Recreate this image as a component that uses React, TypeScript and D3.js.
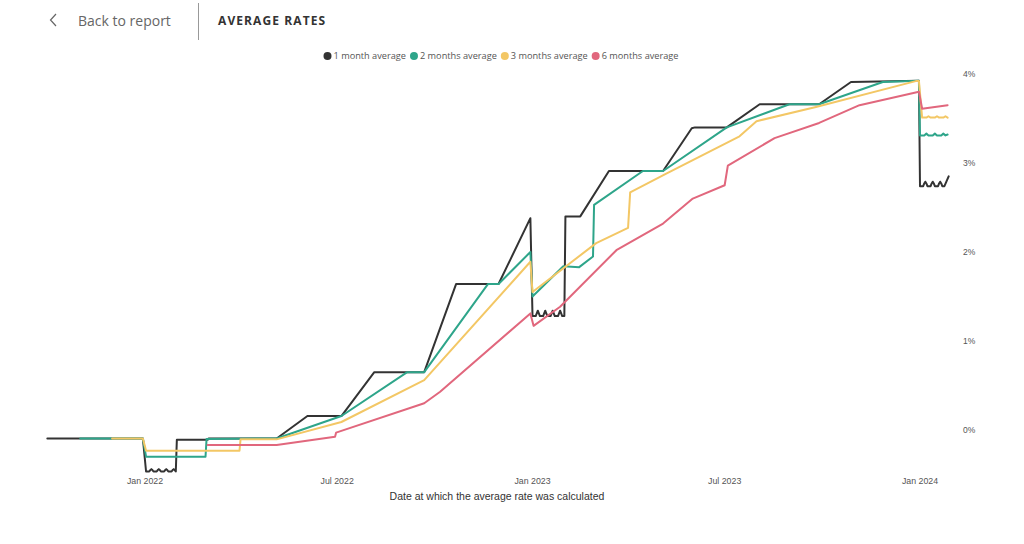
import React, { useEffect, useRef } from 'react';
import * as d3 from 'd3';

type Pt = [string, number];

const seriesNames = ['1 month average', '2 months average', '3 months average', '6 months average'];
const seriesColors = ['#333333', '#2EA58A', '#F3C765', '#E1677D'];
const yTicks = [0, 1, 2, 3, 4];
const xTickDates = ['2022-01-01', '2022-07-01', '2023-01-01', '2023-07-01', '2024-01-01'];
const xDomain = ['2022-01-01', '2024-01-01'];
const yDomain = [0, 4];

const oneMonth: Pt[] = [
  ['2021-10-01', -0.095], ['2021-12-30', -0.095], ['2022-01-02', -0.466],
  ['2022-01-05', -0.466], ['2022-01-06', -0.45], ['2022-01-07', -0.44], ['2022-01-08', -0.45], ['2022-01-09', -0.466],
  ['2022-01-12', -0.466], ['2022-01-13', -0.45], ['2022-01-14', -0.44], ['2022-01-15', -0.45], ['2022-01-16', -0.466],
  ['2022-01-19', -0.466], ['2022-01-20', -0.45], ['2022-01-21', -0.44], ['2022-01-22', -0.45], ['2022-01-23', -0.466],
  ['2022-01-26', -0.466], ['2022-01-27', -0.45], ['2022-01-28', -0.44], ['2022-01-29', -0.45], ['2022-01-30', -0.466],
  ['2022-01-31', -0.11], ['2022-03-01', -0.11], ['2022-03-02', -0.095],
  ['2022-05-05', -0.095], ['2022-06-03', 0.157], ['2022-07-05', 0.157],
  ['2022-08-05', 0.65], ['2022-09-21', 0.65], ['2022-10-21', 1.64],
  ['2022-11-30', 1.64], ['2022-12-30', 2.38], ['2023-01-01', 1.28],
  ['2023-01-04', 1.28], ['2023-01-05', 1.31], ['2023-01-06', 1.34], ['2023-01-07', 1.31], ['2023-01-08', 1.28],
  ['2023-01-11', 1.28], ['2023-01-12', 1.31], ['2023-01-13', 1.34], ['2023-01-14', 1.31], ['2023-01-15', 1.28],
  ['2023-01-18', 1.28], ['2023-01-19', 1.31], ['2023-01-20', 1.34], ['2023-01-21', 1.31], ['2023-01-22', 1.28],
  ['2023-01-25', 1.28], ['2023-01-26', 1.31], ['2023-01-27', 1.34], ['2023-01-28', 1.31], ['2023-01-29', 1.28],
  ['2023-01-31', 1.28], ['2023-02-01', 2.40], ['2023-02-15', 2.40],
  ['2023-03-14', 2.91], ['2023-05-04', 2.91], ['2023-05-31', 3.39],
  ['2023-06-03', 3.40], ['2023-07-03', 3.40], ['2023-08-03', 3.66],
  ['2023-09-28', 3.66], ['2023-10-28', 3.91], ['2023-12-31', 3.925],
  ['2024-01-01', 2.74], ['2024-01-04', 2.74], ['2024-01-05', 2.77], ['2024-01-06', 2.79], ['2024-01-07', 2.77],
  ['2024-01-08', 2.74], ['2024-01-11', 2.74], ['2024-01-12', 2.77], ['2024-01-13', 2.79], ['2024-01-14', 2.77],
  ['2024-01-15', 2.74], ['2024-01-18', 2.74], ['2024-01-19', 2.77], ['2024-01-20', 2.79], ['2024-01-21', 2.77],
  ['2024-01-22', 2.74], ['2024-01-24', 2.74], ['2024-01-28', 2.85],
];

const twoMonths: Pt[] = [
  ['2021-11-01', -0.095], ['2021-12-30', -0.095], ['2022-01-02', -0.30],
  ['2022-02-27', -0.30], ['2022-02-28', -0.10], ['2022-05-05', -0.095],
  ['2022-07-05', 0.157], ['2022-09-05', 0.65], ['2022-09-21', 0.65],
  ['2022-11-20', 1.64], ['2022-11-30', 1.64], ['2022-12-30', 2.00],
  ['2023-01-01', 1.50], ['2023-01-30', 1.84], ['2023-02-14', 1.83],
  ['2023-02-27', 1.95], ['2023-02-28', 2.53], ['2023-04-15', 2.91],
  ['2023-05-04', 2.91], ['2023-07-03', 3.40], ['2023-08-31', 3.66],
  ['2023-09-28', 3.66], ['2023-11-27', 3.91], ['2023-12-31', 3.925],
  ['2024-01-01', 3.31], ['2024-01-05', 3.31], ['2024-01-07', 3.33],
  ['2024-01-09', 3.31], ['2024-01-13', 3.31], ['2024-01-15', 3.33],
  ['2024-01-17', 3.31], ['2024-01-21', 3.31], ['2024-01-23', 3.33],
  ['2024-01-25', 3.31], ['2024-01-27', 3.32],
];

const threeMonths: Pt[] = [
  ['2021-12-01', -0.095], ['2021-12-30', -0.095], ['2022-01-02', -0.233],
  ['2022-03-31', -0.233], ['2022-04-01', -0.105], ['2022-05-05', -0.105],
  ['2022-07-05', 0.09], ['2022-09-21', 0.56], ['2022-12-30', 1.89],
  ['2023-01-01', 1.55], ['2023-03-02', 2.10], ['2023-04-01', 2.27],
  ['2023-04-03', 2.67], ['2023-05-07', 2.88], ['2023-07-15', 3.30],
  ['2023-07-31', 3.47], ['2023-09-25', 3.63], ['2023-12-28', 3.92],
  ['2023-12-31', 3.92], ['2024-01-03', 3.51], ['2024-01-07', 3.51],
  ['2024-01-09', 3.525], ['2024-01-11', 3.51], ['2024-01-15', 3.51],
  ['2024-01-17', 3.525], ['2024-01-19', 3.51], ['2024-01-23', 3.51],
  ['2024-01-25', 3.525], ['2024-01-27', 3.51],
];

const sixMonths: Pt[] = [
  ['2022-03-01', -0.169], ['2022-05-05', -0.169], ['2022-06-29', -0.075],
  ['2022-06-30', -0.03], ['2022-09-21', 0.30], ['2022-10-06', 0.43],
  ['2022-12-30', 1.31], ['2023-01-02', 1.17], ['2023-01-27', 1.385],
  ['2023-03-21', 2.02], ['2023-05-04', 2.32], ['2023-06-01', 2.60],
  ['2023-07-01', 2.75], ['2023-07-04', 2.97], ['2023-08-17', 3.28],
  ['2023-09-28', 3.45], ['2023-11-05', 3.65], ['2023-12-31', 3.80],
  ['2024-01-03', 3.61], ['2024-01-27', 3.65],
];

const allSeries = [oneMonth, twoMonths, threeMonths, sixMonths];

const W = 1024;
const H = 544;

export default function App() {
  const ref = useRef<SVGSVGElement>(null);

  useEffect(() => {
    const svg = d3.select(ref.current!);
    svg.selectAll('*').remove();
    const parse = d3.timeParse('%Y-%m-%d');

    // header
    const hdr = svg.append('g');
    hdr.append('path').attr('d', 'M56,14 L50.5,20 L56,26').attr('fill', 'none')
      .attr('stroke', '#666').attr('stroke-width', 1.2);
    hdr.append('text').attr('x', 78).attr('y', 26).text('Back to report')
      .attr('font-family', '"Open Sans", sans-serif').attr('font-size', 14).attr('fill', '#666');
    hdr.append('line').attr('x1', 198.5).attr('x2', 198.5).attr('y1', 3).attr('y2', 40)
      .attr('stroke', '#999').attr('stroke-width', 1);
    hdr.append('text').attr('x', 218).attr('y', 25).text('AVERAGE RATES')
      .attr('font-family', '"Open Sans", sans-serif').attr('font-size', 12).attr('font-weight', 700)
      .attr('letter-spacing', 1.1).attr('fill', '#333');

    const x = d3.scaleTime().domain(xDomain.map((s) => parse(s)!)).range([145, 920]);
    const y = d3.scaleLinear().domain(yDomain).range([430, 74]);

    // y tick labels
    const yg = svg.append('g');
    yTicks.forEach((t) => {
      yg.append('text').attr('x', 963).attr('y', y(t)).attr('dy', '0.35em')
        .text(`${t}%`).attr('font-family', '"Liberation Sans", Arial, sans-serif')
        .attr('font-size', 8.5).attr('fill', '#555');
    });

    // x tick labels
    const fmt = d3.timeFormat('%b %Y');
    const xg = svg.append('g');
    xTickDates.forEach((s) => {
      const d = parse(s)!;
      xg.append('text').attr('x', x(d)).attr('y', 484).attr('text-anchor', 'middle')
        .text(fmt(d)).attr('font-family', '"Liberation Sans", Arial, sans-serif')
        .attr('font-size', 8.8).attr('fill', '#555');
    });
    svg.append('text').attr('x', 497).attr('y', 500).attr('text-anchor', 'middle')
      .text('Date at which the average rate was calculated')
      .attr('font-family', '"Liberation Sans", Arial, sans-serif').attr('font-size', 10.5)
      .attr('fill', '#333');

    // lines
    const line = d3.line<Pt>().x((d) => x(parse(d[0])!)).y((d) => y(d[1]));
    allSeries.forEach((s, i) => {
      svg.append('path').attr('d', line(s)!).attr('fill', 'none')
        .attr('stroke', seriesColors[i]).attr('stroke-width', 2)
        .attr('stroke-linejoin', 'round').attr('stroke-linecap', 'round');
    });

    // legend
    const lg = svg.append('g');
    let cx = 0;
    seriesNames.forEach((n, i) => {
      const g = lg.append('g').attr('transform', `translate(${cx},0)`);
      g.append('circle').attr('cx', 4).attr('cy', 56).attr('r', 4).attr('fill', seriesColors[i]);
      const t = g.append('text').attr('x', 10).attr('y', 56).attr('dy', '0.35em').text(n)
        .attr('font-family', '"Open Sans", sans-serif').attr('font-size', 9.2).attr('fill', '#555');
      const w = (t.node() as SVGTextElement).getComputedTextLength();
      cx += 10 + w + 4;
    });
    const totalW = cx - 4;
    lg.attr('transform', `translate(${501 - totalW / 2},0)`);
  }, []);

  return (
    <svg ref={ref} width={W} height={H}
      style={{ position: 'absolute', left: 0, top: 0, background: '#fff' }} />
  );
}
